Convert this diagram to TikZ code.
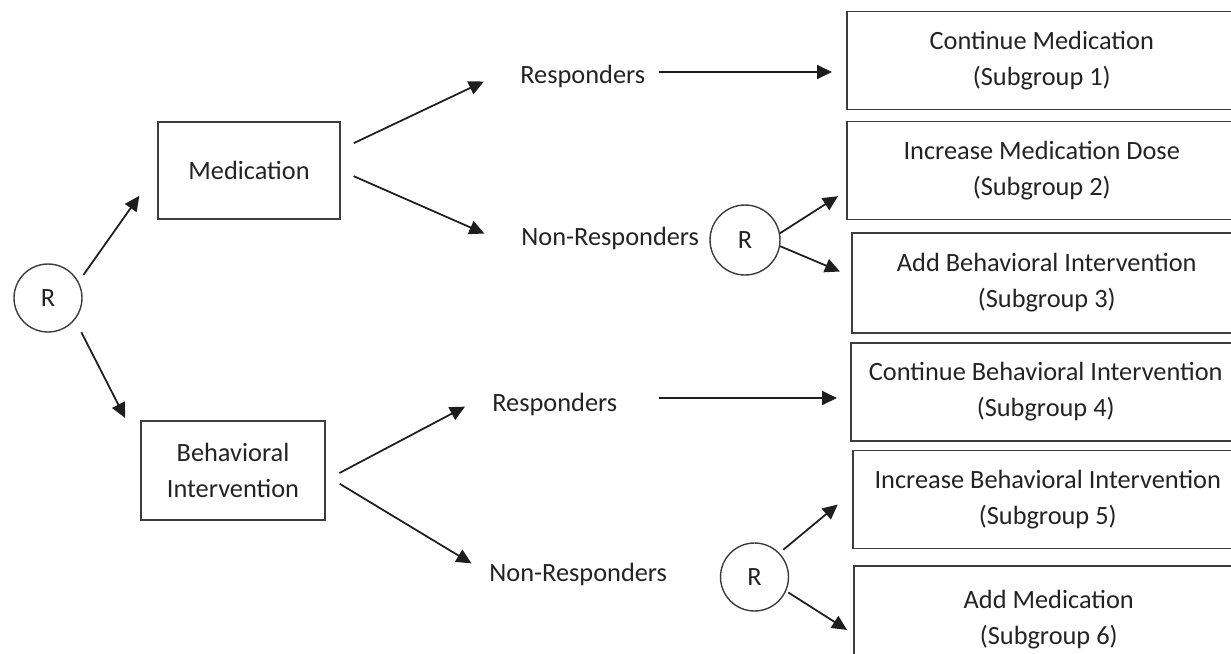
\documentclass[tikz,border=0pt]{standalone}
\usepackage{fontspec}
\setmainfont{Carlito}
\usepackage{tikz}
\usetikzlibrary{arrows.meta, calc}
\definecolor{myline}{RGB}{60,60,60}
\definecolor{mytext}{RGB}{35,35,35}
\definecolor{myarrow}{RGB}{30,30,30}
\newcommand{\diagfont}{\fontsize{15}{20.5}\selectfont}
\tikzset{
  armbox/.style={rectangle, draw=myline, line width=0.9pt, align=center,
    inner sep=0pt, font=\diagfont, text=mytext},
  subbox/.style={armbox, anchor=west, minimum width=7.8cm, minimum height=1.96cm},
  randnode/.style={circle, draw=myline, line width=0.8pt, inner sep=0pt,
    font=\diagfont, text=mytext},
  lbl/.style={inner sep=0pt, anchor=west, font=\diagfont, text=mytext},
  arrow/.style={-{Triangle[length=0.3cm, width=0.28cm]}, line width=1pt, color=myarrow}
}
\begin{document}
\begin{tikzpicture}[x=0.02cm, y=-0.02cm]
  \useasboundingbox (0,0) rectangle (1231,653);
  \clip (0,0) rectangle (1231,653);

  % first randomisation
  \node[randnode, minimum size=1.36cm] (r1) at (48,298) {R};
  \node[armbox, minimum width=3.64cm, minimum height=1.94cm] (med) at (249,170.5) {Medication};
  \node[armbox, minimum width=3.68cm, minimum height=1.98cm] (beh) at (233,470.5) {Behavioral\\Intervention};

  % response status
  \node[lbl] (resp1) at (520,76) {Responders};
  \node[lbl] (nonresp1) at (521,238) {Non-Responders};
  \node[lbl] (resp2) at (492,404) {Responders};
  \node[lbl] (nonresp2) at (489,574) {Non-Responders};

  % second randomisation
  \node[randnode, minimum size=1.4cm] (r2) at (745,240) {R};
  \node[randnode, minimum size=1.36cm] (r3) at (754.5,577) {R};

  % subgroups
  \node[subbox] (c1) at (846,60.5) {Continue Medication\\(Subgroup 1)};
  \node[subbox] (c2) at (846,170.5) {Increase Medication Dose\\(Subgroup 2)};
  \node[subbox, minimum height=2cm] (c3) at (851,283) {Add Behavioral Intervention\\(Subgroup 3)};
  \node[subbox] (c4) at (850,392) {Continue Behavioral Intervention\\(Subgroup 4)};
  \node[subbox] (c5) at (852,499.5) {Increase Behavioral Intervention\\(Subgroup 5)};
  \node[subbox, minimum height=2.16cm] (c6) at (853,620) {Add Medication\\(Subgroup 6)};

  \draw[arrow, shorten <=0.17cm, shorten >=0.62cm] (r1.28) -- (med.west);
  \draw[arrow, shorten <=0.28cm, shorten >=0.66cm] (r1.-39) -- (beh.166);
  \draw[arrow, shorten <=0.29cm, shorten >=0.8cm] (med.13) -- (resp1.north west);
  \draw[arrow, shorten <=0.28cm, shorten >=0.8cm] (med.east) -- (nonresp1.south west);
  \draw[arrow, shorten <=0.31cm, shorten >=0.61cm] (beh.-6) -- (resp2.north west);
  \draw[arrow, shorten <=0.33cm, shorten >=0.41cm] (beh.-3) -- (nonresp2.west);
  \draw[arrow, shorten <=0.26cm, shorten >=0.28cm] ([yshift=0.08cm]resp1.east) -- ([yshift=0.08cm]resp1.east -| c1.west);
  \draw[arrow, shorten <=0.82cm, shorten >=0.26cm] ([yshift=0.12cm]resp2.east) -- ([yshift=0.12cm]resp2.east -| c4.west);
  \draw[arrow, shorten >=0.19cm] (r2.11) -- (c2.186);
  \draw[arrow, shorten >=0.24cm] (r2.-10) -- (c3.178);
  \draw[arrow, shorten <=0.1cm, shorten >=0.37cm] (r3.44) -- (c5.178);
  \draw[arrow, shorten <=0.05cm, shorten >=0.14cm] (r3.-24) -- (c6.184);
\end{tikzpicture}
\end{document}
